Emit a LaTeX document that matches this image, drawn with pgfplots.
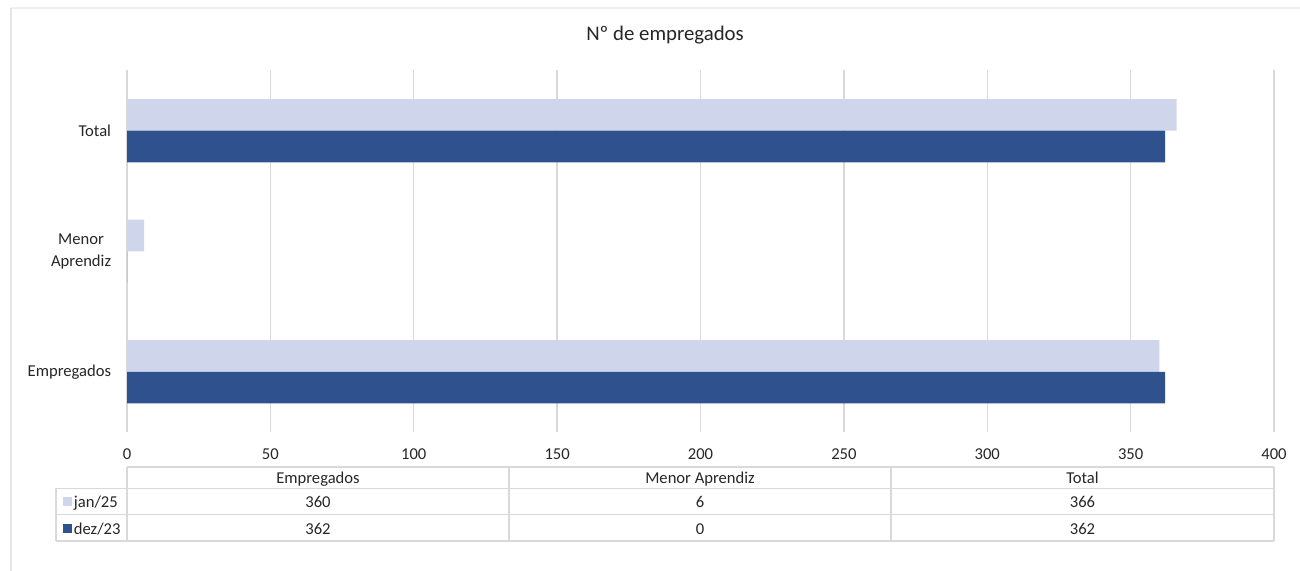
\documentclass[border=0pt]{standalone}
\usepackage{pgfplots}
\pgfplotsset{compat=1.18}
\usepackage{fontspec}
\setmainfont{Carlito}
\definecolor{lightbar}{HTML}{CFD5EA}
\definecolor{darkbar}{HTML}{2F528F}
\definecolor{gridc}{HTML}{D9D9D9}
\definecolor{txt}{HTML}{262626}
\begin{document}
\begin{tikzpicture}
\path[use as bounding box] (0pt,0pt) rectangle (650pt,-285.5pt);
\begin{scope}[x=0.5pt,y=-0.5pt]
  % outer frame
  \draw[color={black!6},line width=0.6pt] (11,8) -- (1300,8);
  \draw[color={black!10},line width=0.6pt] (11,8) -- (11,571);
  % title
  \node[font=\fontsize{10.4}{12}\selectfont,text=txt,anchor=base,inner sep=0pt] at (665,41) {Nº de empregados};
\end{scope}
\begin{axis}[
  at={(63.5pt,-216pt)}, anchor=south west,
  scale only axis, width=573.5pt, height=180.75pt,
  xbar, bar width=0.262,
  xmin=0, xmax=400, ymin=-0.5, ymax=2.5,
  xtick={0,50,...,400},
  ytick={0,1,2},
  yticklabels={Empregados,{Menor\\Aprendiz},Total},
  axis line style={draw=none},
  tick style={draw=none},
  xmajorgrids, grid style={gridc,line width=0.7pt},
  /pgf/number format/assume math mode=true,
  ticklabel style={font=\fontsize{8.3}{11}\selectfont,text=txt},
  xticklabel style={anchor=base,inner sep=0pt,yshift=-13.6pt},
  yticklabel style={anchor=east,inner sep=0pt,xshift=-3.5pt,align=center},
  clip=false,
]
\addplot[fill=lightbar,draw=none,bar shift=0.131] coordinates {(360,0) (6,1) (366,2)};
\addplot[fill=darkbar,draw=none,bar shift=-0.131] coordinates {(362,0) (0,1) (362,2)};
\end{axis}
\begin{scope}[x=0.5pt,y=-0.5pt]
  % data table
  \begin{scope}[draw=gridc,line width=0.8pt]
    \draw (127,466.7) -- (1274,466.7);
    \draw (55.7,488.3) -- (1274,488.3);
    \draw (55.7,514.3) -- (1274,514.3);
    \draw (55.7,541) -- (1274,541);
    \draw (55.7,488.3) -- (55.7,541);
    \foreach \xx in {127,509,891,1274} {\draw (\xx,466.7) -- (\xx,541);}
  \end{scope}
  \begin{scope}[every node/.style={font=\fontsize{8.3}{10}\selectfont,text=txt,inner sep=0pt,anchor=base}]
    \node at (318,483.3) {Empregados};
    \node at (700,483.3) {Menor Aprendiz};
    \node at (1082.5,483.3) {Total};
    \node at (318,507.3) {360};
    \node at (700,507.3) {6};
    \node at (1082.5,507.3) {366};
    \node at (318,534) {362};
    \node at (700,534) {0};
    \node at (1082.5,534) {362};
    \fill[lightbar] (62.5,496.5) rectangle (71.5,505.5);
    \fill[darkbar] (62.5,523.5) rectangle (71.5,532.5);
    \node[anchor=base west] at (73.5,507.3) {jan/25};
    \node[anchor=base west] at (73.5,534) {dez/23};
  \end{scope}
\end{scope}
\end{tikzpicture}
\end{document}
